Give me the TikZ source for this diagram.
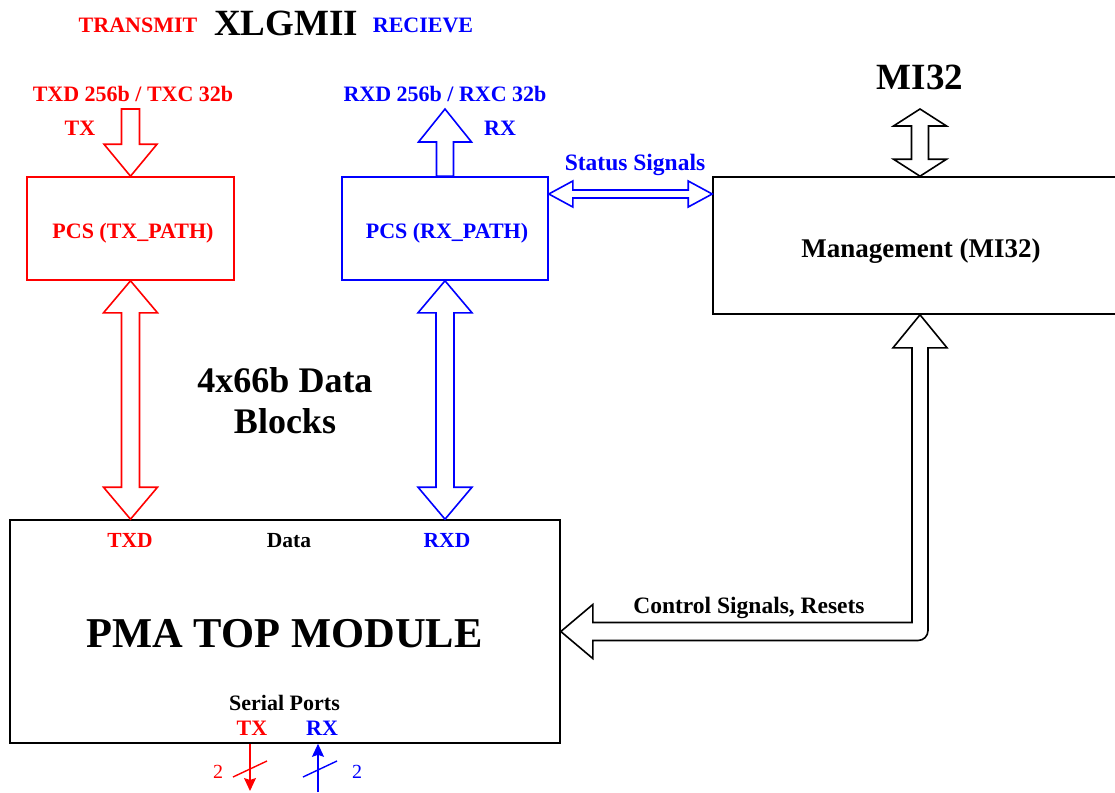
\documentclass[tikz,border=0pt]{standalone}
\usepackage{fontspec}
\setmainfont{Liberation Serif}
\usetikzlibrary{arrows.meta,calc}
\definecolor{tred}{RGB}{255,0,0}
\definecolor{tblue}{RGB}{0,0,255}
\begin{document}
\begin{tikzpicture}[x=1pt,y=-1pt,
  box/.style={draw, line width=1.6pt, inner sep=0pt},
  barrow/.style={line width=1.6pt, line join=miter},
  lbl/.style={font=\bfseries\fontsize{22}{26}\selectfont, anchor=base, inner sep=0pt},
  biglbl/.style={font=\bfseries\fontsize{37}{42}\selectfont, anchor=base, inner sep=0pt},
  numlbl/.style={font=\fontsize{20}{24}\selectfont, anchor=base, inner sep=0pt},
  sig/.style={line width=1.4pt}]
\useasboundingbox (0,0) rectangle (1115,792);
\clip (0,0) rectangle (1115,792);
\fill[white] (0,0) rectangle (1115,792);

% boxes
\node[box, draw=tred, minimum width=207pt, minimum height=103pt] (pcstx) at (130.5,228.5) {};
\node[box, draw=tblue, minimum width=206pt, minimum height=103pt] (pcsrx) at (445,228.5) {};
\node[box, draw=black, minimum width=414pt, minimum height=137pt] (mgmt) at (920,245.5) {};
\node[box, draw=black, minimum width=550pt, minimum height=223pt] (pma) at (285,631.5) {};

% free ends
\coordinate (txin) at (130.5,109);
\coordinate (rxout) at (445,109);
\coordinate (mitop) at (920,109);
\coordinate (stat) at (0,194);
\coordinate (txs) at (250,791);
\coordinate (rxs) at (318,792);

% titles
\node[lbl, text=tred] (ttx) at (138,33) {TRANSMIT};
\node[biglbl] (txl) at (286,36) {XLGMII};
\node[lbl, text=tblue] (trx) at (423,33) {RECIEVE};

\node[lbl, text=tred] (ltxd) at (133,101) {TXD 256b / TXC 32b};
\node[lbl, text=tred] (ltx) at (80,135) {TX};
\node[lbl, text=tblue] (lrxd) at (445,101) {RXD 256b / RXC 32b};
\node[lbl, text=tblue] (lrx) at (500,135) {RX};

\node[lbl, text=tred] (ptx) at (133,238) {PCS (TX\_PATH)};
\node[lbl, text=tblue] (prx) at (447,238) {PCS (RX\_PATH)};

\node[lbl, text=tblue, font=\bfseries\fontsize{23.5}{26}\selectfont] (lstat) at (635,170) {Status Signals};
\node[biglbl] (lmi) at (920,89) {MI32};
\node[lbl, font=\bfseries\fontsize{27}{30}\selectfont] (lmg) at (921,257) {Management (MI32)};

\node[lbl, font=\bfseries\fontsize{36}{40}\selectfont] (ldb1) at (285,392) {4x66b Data};
\node[lbl, font=\bfseries\fontsize{36}{40}\selectfont] (ldb2) at (285,433) {Blocks};

\node[lbl, text=tred, font=\bfseries\fontsize{21.5}{26}\selectfont] (ptxd) at (130,547) {TXD};
\node[lbl, font=\bfseries\fontsize{21.5}{26}\selectfont] (pdata) at (289,547) {Data};
\node[lbl, text=tblue, font=\bfseries\fontsize{21.5}{26}\selectfont] (prxd) at (447,547) {RXD};
\node[lbl, font=\bfseries\fontsize{42.5}{48}\selectfont] (ppma) at (284.5,647) {PMA TOP MODULE};
\node[lbl] (pser) at (284.5,710) {Serial Ports};
\node[lbl, text=tred] (pstx) at (252,735) {TX};
\node[lbl, text=tblue] (psrx) at (322,735) {RX};
\node[lbl, font=\bfseries\fontsize{23.5}{26}\selectfont] (lctl) at (749,613) {Control Signals, Resets};

% TX input arrow (down)
\draw[barrow, tred] let \p1=(txin), \p2=(pcstx.north) in
  (\x2,\y2) -- (\x2+26.5pt,\y2+32pt) -- (\x2+9pt,\y2+32pt) -- (\x2+9pt,\y1)
  -- (\x2-9pt,\y1) -- (\x2-9pt,\y2+32pt) -- (\x2-26.5pt,\y2+32pt) -- cycle;

% RX output arrow (up)
\draw[barrow, tblue] let \p1=(pcsrx.north), \p2=(rxout) in
  (\x2,\y2) -- (\x2+26.5pt,\y2-33pt) -- (\x2+8.5pt,\y2-33pt) -- (\x2+8.5pt,\y1)
  -- (\x2-8.5pt,\y1) -- (\x2-8.5pt,\y2-33pt) -- (\x2-26.5pt,\y2-33pt) -- cycle;

% TX data double arrow
\draw[barrow, tred] let \p1=(pcstx.south), \p2=(pma.north) in
  (\x1,\y1) -- (\x1+27pt,\y1-32pt) -- (\x1+9pt,\y1-32pt) -- (\x1+9pt,\y2+32pt)
  -- (\x1+27pt,\y2+32pt) -- (\x1,\y2) -- (\x1-27pt,\y2+32pt) -- (\x1-9pt,\y2+32pt)
  -- (\x1-9pt,\y1-32pt) -- (\x1-27pt,\y1-32pt) -- cycle;

% RX data double arrow
\draw[barrow, tblue] let \p1=(pcsrx.south), \p2=(pma.north) in
  (\x1,\y1) -- (\x1+27pt,\y1-32pt) -- (\x1+9pt,\y1-32pt) -- (\x1+9pt,\y2+32pt)
  -- (\x1+27pt,\y2+32pt) -- (\x1,\y2) -- (\x1-27pt,\y2+32pt) -- (\x1-9pt,\y2+32pt)
  -- (\x1-9pt,\y1-32pt) -- (\x1-27pt,\y1-32pt) -- cycle;

% Status signals double arrow
\draw[barrow, tblue] let \p1=(pcsrx.east), \p2=(mgmt.west), \p3=(stat) in
  (\x1,\y3) -- (\x1+24pt,\y3+13pt) -- (\x1+24pt,\y3+4pt) -- (\x2-24pt,\y3+4pt)
  -- (\x2-24pt,\y3+13pt) -- (\x2,\y3) -- (\x2-24pt,\y3-13pt) -- (\x2-24pt,\y3-4pt)
  -- (\x1+24pt,\y3-4pt) -- (\x1+24pt,\y3-13pt) -- cycle;

% MI32 double arrow
\draw[barrow] let \p1=(mitop), \p2=(mgmt.north) in
  (\x2,\y1) -- (\x2+26.5pt,\y1-17pt) -- (\x2+8.5pt,\y1-17pt) -- (\x2+8.5pt,\y2+17pt)
  -- (\x2+26.5pt,\y2+17pt) -- (\x2,\y2) -- (\x2-26.5pt,\y2+17pt) -- (\x2-8.5pt,\y2+17pt)
  -- (\x2-8.5pt,\y1-17pt) -- (\x2-26.5pt,\y1-17pt) -- cycle;

% Control signals arrow
\draw[barrow] let \p1=(mgmt.south), \p2=(pma.east) in
  (\x1,\y1) -- (\x1+27pt,\y1-33pt) -- (\x1+8pt,\y1-33pt) -- (\x1+8pt,\y2+1pt)
  arc[start angle=0, end angle=-90, radius=10pt]
  -- (\x2+32pt,\y2-9pt) -- (\x2+32pt,\y2-27pt) -- (\x2,\y2) -- (\x2+32pt,\y2+27pt)
  -- (\x2+32pt,\y2+9pt) -- (\x1-8pt,\y2+9pt) -- (\x1-8pt,\y1-33pt)
  -- (\x1-27pt,\y1-33pt) -- cycle;

% serial ports
\draw[sig, tred, -{Stealth[length=13pt, width=12pt, inset=2pt]}] (pma.south -| txs) -- (txs);
\draw[sig, tblue, -{Stealth[length=13pt, width=12pt, inset=2pt]}] (rxs) -- (pma.south -| rxs);
\draw[sig, tred] (233,777) -- (267,761);
\draw[sig, tblue] (303,777) -- (337,761);
\node[numlbl, text=tred] (n1) at (218,778) {2};
\node[numlbl, text=tblue] (n2) at (357,778) {2};
\end{tikzpicture}
\end{document}
